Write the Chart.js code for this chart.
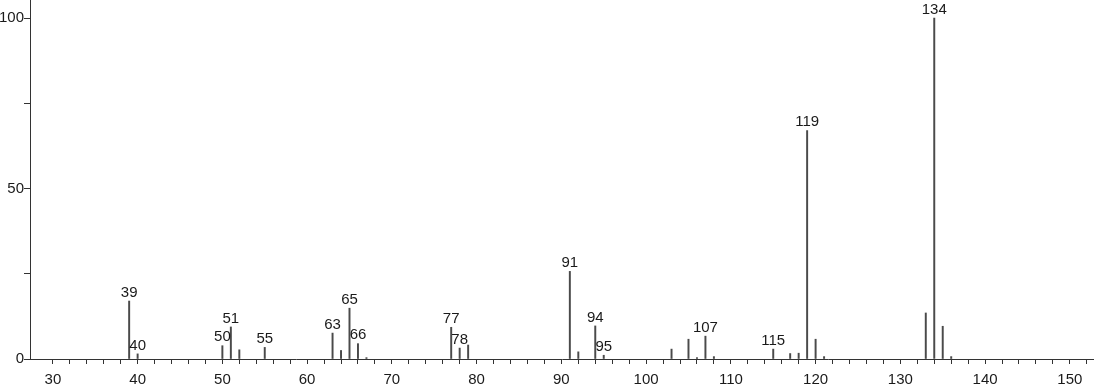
<!DOCTYPE html>
<html>
<head>
<meta charset="utf-8">
<style>
  html, body { margin: 0; padding: 0; background: #fff; }
  #wrap { width: 1094px; height: 384px; position: relative; }
</style>
<script src="https://cdn.jsdelivr.net/npm/chart.js@4.4.0/dist/chart.umd.min.js"></script>
</head>
<body>
<div id="wrap"><canvas id="c" width="1094" height="384"></canvas></div>
<script>
// m/z values and relative intensities
const mz = [39, 40, 50, 51, 52, 55, 63, 64, 65, 66, 67, 77, 78, 79, 91, 92, 94, 95, 103, 105, 106, 107, 108, 115, 117, 118, 119, 120, 121, 133, 134, 135, 136];
const intensity = [17, 1.5, 3.9, 9.4, 2.7, 3.4, 7.6, 2.5, 14.9, 4.5, 0.4, 9.3, 3.2, 4.1, 25.7, 2.1, 9.7, 1.1, 2.9, 5.8, 0.4, 6.7, 0.7, 2.9, 1.6, 1.7, 67, 5.8, 0.7, 13.5, 100, 9.6, 0.7];
const labeledPeaks = [39, 40, 50, 51, 55, 63, 65, 66, 77, 78, 91, 94, 95, 107, 115, 119, 134];
const xTicks = [30, 32, 34, 36, 38, 40, 42, 44, 46, 48, 50, 52, 54, 56, 58, 60, 62, 64, 66, 68, 70, 72, 74, 76, 78, 80, 82, 84, 86, 88, 90, 92, 94, 96, 98, 100, 102, 104, 106, 108, 110, 112, 114, 116, 118, 120, 122, 124, 126, 128, 130, 132, 134, 136, 138, 140, 142, 144, 146, 148, 150, 152];
const xTickLabels = [30, 40, 50, 60, 70, 80, 90, 100, 110, 120, 130, 140, 150];
const yTicks = [0, 25, 50, 75, 100];
const yTickLabels = [0, 50, 100];

const points = mz.map((m, i) => ({ x: m, y: intensity[i] }));
const FONT = '"Liberation Sans", Arial, sans-serif';

const peakLabels = {
  id: 'peakLabels',
  afterDatasetsDraw(chart) {
    const ctx = chart.ctx;
    const xs = chart.scales.x, ys = chart.scales.y;
    ctx.save();
    ctx.font = '15px ' + FONT;
    ctx.fillStyle = '#1a1a1a';
    ctx.textAlign = 'center';
    ctx.textBaseline = 'bottom';
    labeledPeaks.forEach(m => {
      const i = mz.indexOf(m);
      if (i < 0) return;
      const px = xs.getPixelForValue(m);
      const py = ys.getPixelForValue(intensity[i]);
      ctx.fillText(String(m), px, py - 1);
    });
    ctx.restore();
  }
};

new Chart(document.getElementById('c'), {
  type: 'bar',
  data: {
    datasets: [{
      data: points,
      backgroundColor: '#4a4a4a',
      borderWidth: 0,
      barThickness: 1.3
    }]
  },
  options: {
    responsive: false,
    animation: false,
    devicePixelRatio: 1,
    layout: { padding: 0 },
    plugins: { legend: { display: false }, tooltip: { enabled: false } },
    scales: {
      x: {
        type: 'linear',
        min: 27.3,
        max: 152.85,
        offset: false,
        afterBuildTicks: (axis) => { axis.ticks = xTicks.map(v => ({ value: v })); },
        afterFit: (axis) => { axis.height = 25; axis.paddingLeft = 0; axis.paddingRight = 0; },
        border: { display: true, color: '#333', width: 1 },
        grid: { display: true, drawOnChartArea: false, drawTicks: true, tickLength: 5, color: '#333', offset: false },
        ticks: {
          autoSkip: false,
          maxRotation: 0,
          padding: 7,
          color: '#1a1a1a',
          font: { family: FONT, size: 15 },
          callback: (v) => xTickLabels.includes(v) ? String(v) : ''
        }
      },
      y: {
        min: 0,
        max: 105.3,
        afterBuildTicks: (axis) => { axis.ticks = yTicks.map(v => ({ value: v })); },
        afterFit: (axis) => { axis.width = 30; axis.paddingTop = 0; axis.paddingBottom = 0; },
        border: { display: true, color: '#333', width: 1 },
        grid: { display: true, drawOnChartArea: false, drawTicks: true, tickLength: 6, color: '#333' },
        ticks: {
          autoSkip: false,
          padding: 0,
          color: '#1a1a1a',
          font: { family: FONT, size: 15 },
          callback: (v) => yTickLabels.includes(v) ? String(v) : ''
        }
      }
    }
  },
  plugins: [peakLabels]
});
</script>
</body>
</html>
